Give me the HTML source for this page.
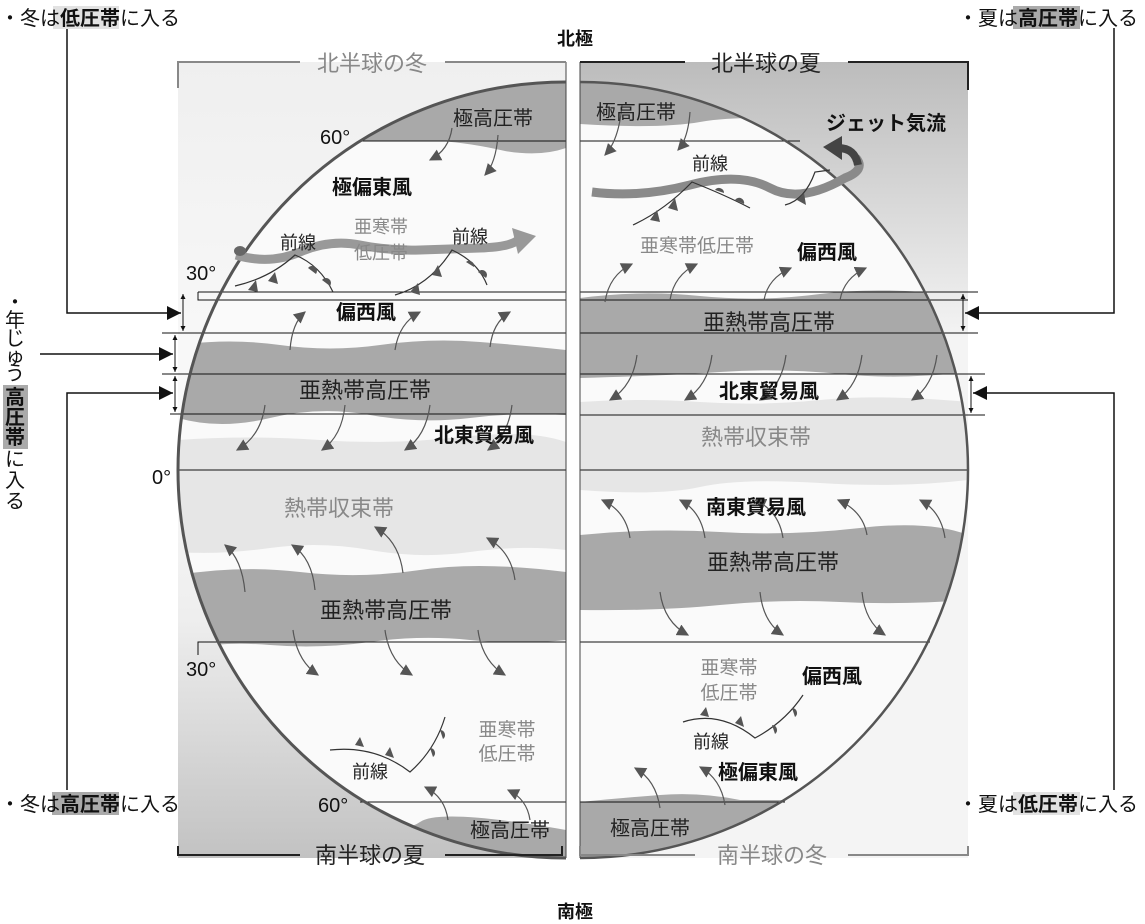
<!DOCTYPE html>
<html><head><meta charset="utf-8"><style>
html,body{margin:0;padding:0;background:#fff;}
svg{display:block;font-family:"Liberation Sans","Noto Sans CJK JP",sans-serif;}
</style></head><body>
<svg width="1145" height="924" viewBox="0 0 1145 924" xmlns="http://www.w3.org/2000/svg">
<defs>
<clipPath id="cL"><path d="M566 82 A388 388 0 0 0 566 858 Z"/></clipPath>
<clipPath id="cR"><path d="M580 82 A388 388 0 0 1 580 858 Z"/></clipPath>
<linearGradient id="gL" x1="0" y1="0" x2="0" y2="1">
<stop offset="0" stop-color="#efefef"/><stop offset="0.45" stop-color="#fafafa"/><stop offset="0.7" stop-color="#eeeeee"/><stop offset="1" stop-color="#c2c2c2"/></linearGradient>
<linearGradient id="gR" x1="0" y1="0" x2="0" y2="1">
<stop offset="0" stop-color="#bcbcbc"/><stop offset="0.35" stop-color="#f4f4f4"/><stop offset="1" stop-color="#f4f4f4"/></linearGradient>
<marker id="ah" viewBox="0 0 10 10" refX="9" refY="5" markerWidth="12" markerHeight="12" markerUnits="userSpaceOnUse" orient="auto"><path d="M0 0L10 5L0 10z" fill="#555"/></marker>
<marker id="bk" viewBox="0 0 10 10" refX="10" refY="5" markerWidth="14" markerHeight="14" markerUnits="userSpaceOnUse" orient="auto"><path d="M0 0L10 5L0 10z" fill="#111"/></marker>
<marker id="sm" viewBox="0 0 10 10" refX="10" refY="5" markerWidth="5" markerHeight="5" markerUnits="userSpaceOnUse" orient="auto-start-reverse"><path d="M0 0L10 5L0 10z" fill="#111"/></marker>
</defs>

<rect x="178" y="62" width="388" height="796" fill="url(#gL)"/>
<rect x="580" y="62" width="388" height="796" fill="url(#gR)"/>

<g clip-path="url(#cL)">
<rect x="170" y="60" width="400" height="800" fill="#fafafa"/>
<path d="M178 60 H566 V148 Q540 157 505 151 Q470 143 440 141 L178 141 Z" fill="#a9a9a9"/>
<path d="M178 345 Q230 338 280 345 T380 345 T480 342 T566 350 V415 Q520 412 470 418 T370 415 T270 418 T178 418 Z" fill="#a9a9a9"/>
<path d="M178 440 Q250 435 320 440 T460 437 T566 442 V550 Q520 545 470 552 T370 550 T270 548 T178 552 Z" fill="#e6e6e6"/>
<path d="M178 575 Q240 565 300 572 T420 570 T566 572 V640 Q520 645 470 640 T370 642 T270 645 T178 650 Z" fill="#a9a9a9"/>
<path d="M178 830 Q260 820 330 828 T420 822 T566 830 V860 H178 Z" fill="#a9a9a9"/>
</g>
<g clip-path="url(#cR)">
<rect x="578" y="60" width="400" height="800" fill="#fafafa"/>
<path d="M580 60 H968 V120 Q900 125 820 120 T700 122 T580 124 Z" fill="#a9a9a9"/>
<path d="M580 298 Q640 290 700 296 T820 294 T968 296 V372 Q900 380 840 374 T720 372 T580 378 Z" fill="#a9a9a9"/>
<path d="M580 402 Q640 398 700 402 T820 400 T968 402 V480 Q900 488 820 483 T700 487 T580 490 Z" fill="#e6e6e6"/>
<path d="M580 535 Q650 528 720 532 T860 528 T968 535 V600 Q900 605 840 602 T720 605 T580 610 Z" fill="#a9a9a9"/>
<path d="M580 802 Q620 798 660 795 T740 800 L968 800 V860 H580 Z" fill="#a9a9a9"/>
</g>

<g stroke="#111" stroke-width="1" fill="none">
<path d="M198 292 H566 M198 292 V300 H566 M162 333 H566 M162 374 H566 M170 414 H566 M178 470 H566"/>
<path d="M198 655 V642 H566 M360 802 H566 M360 141 H566"/>
<path d="M580 141 H800 M580 292 H978 M580 300 H968 M580 333 H978 M580 374 H985 M580 415 H985 M580 470 H968 M580 642 H930 M580 802 H785"/>
<path d="M566 62 V858 M580 62 V858" stroke="#444"/>
</g>

<path d="M566 82 A388 388 0 0 0 566 858" stroke="#555" stroke-width="3" fill="none"/>
<path d="M580 82 A388 388 0 0 1 580 858" stroke="#555" stroke-width="2.5" fill="none"/>

<path d="M236 255 Q270 265 300 252 T360 245 T420 250 T480 248 T518 240" stroke="#999" stroke-width="9" fill="none"/>
<polygon points="512,228 536,236 518,254" fill="#999"/>
<ellipse cx="240" cy="251" rx="6" ry="5" fill="#666"/>
<path d="M592 192 Q640 198 690 185 T770 188 T845 178 Q866 170 856 158" stroke="#8a8a8a" stroke-width="9" fill="none"/>
<path d="M858 165 Q855 148 838 148" stroke="#444" stroke-width="8" fill="none"/>
<polygon points="823,147 842,136 842,160" fill="#444"/>

<g stroke="#333" stroke-width="1.2" fill="none">
<path d="M235 286 Q270 278 295 255 Q320 265 333 292"/>
<path d="M395 295 Q430 285 452 250 Q478 262 487 285"/>
<path d="M633 225 Q665 210 692 182 Q725 195 750 208"/>
<path d="M785 205 Q805 200 815 172 L830 170"/>
<path d="M330 750 Q375 745 410 772 Q435 750 445 717"/>
<path d="M683 722 Q720 710 755 738 Q785 722 803 695"/>
</g>
<g fill="#555">
<polygon points="248,290 256,280 258,292"/><polygon points="268,281 275,272 278,284"/>
<path d="M308 268 a5 5 0 0 1 8 6z"/><path d="M322 280 a5 5 0 0 1 8 6z"/>
<polygon points="410,292 418,283 420,295"/><polygon points="432,275 438,265 442,277"/>
<path d="M466 262 a5 5 0 0 1 8 5z"/><path d="M478 272 a5 5 0 0 1 8 6z"/>
<polygon points="650,220 657,210 660,222"/><polygon points="668,208 675,198 678,211"/>
<path d="M715 190 a5 5 0 0 1 9 3z"/><path d="M735 200 a5 5 0 0 1 9 4z"/>
<polygon points="797,200 804,193 806,205"/>
<polygon points="355,745 360,737 364,747"/><polygon points="385,755 390,747 394,758"/>
<path d="M430 748 a5 5 0 0 1 3 9z"/><path d="M440 730 a5 5 0 0 1 3 9z"/>
<polygon points="700,715 706,707 709,717"/><polygon points="735,723 741,716 744,727"/>
<path d="M772 725 a5 5 0 0 1 3 9z"/><path d="M792 708 a5 5 0 0 1 3 9z"/>
</g>

<g stroke="#555" stroke-width="1.2" fill="none" marker-end="url(#ah)">
<path d="M452 128 Q449 150 430 160"/><path d="M498 135 Q496 163 485 175"/>
<path d="M290 350 Q292 323 305 312"/><path d="M395 350 Q399 323 420 312"/><path d="M490 347 Q493 322 510 312"/>
<path d="M265 405 Q261 436 237 450"/><path d="M345 405 Q342 436 322 450"/><path d="M430 405 Q426 436 405 450"/><path d="M512 405 Q508 436 488 450"/>
<path d="M245 592 Q242 559 225 545"/><path d="M315 590 Q312 558 292 545"/><path d="M403 573 Q399 541 375 527"/><path d="M515 580 Q511 551 487 538"/>
<path d="M293 630 Q297 661 318 675"/><path d="M385 630 Q389 661 412 675"/><path d="M478 630 Q482 661 505 675"/>
<path d="M448 820 Q445 797 425 787"/><path d="M530 820 Q527 799 508 790"/>
<path d="M622 105 Q619 140 605 155"/><path d="M690 112 Q688 139 678 150"/>
<path d="M605 302 Q609 275 632 264"/><path d="M670 300 Q674 275 697 264"/><path d="M764 300 Q768 278 791 268"/><path d="M840 300 Q844 278 866 268"/>
<path d="M637 355 Q633 386 610 400"/><path d="M712 355 Q708 386 685 400"/><path d="M786 355 Q782 386 760 400"/><path d="M862 355 Q858 386 837 400"/><path d="M937 355 Q933 386 912 400"/>
<path d="M630 538 Q626 511 602 500"/><path d="M705 538 Q701 511 680 500"/><path d="M783 538 Q779 511 755 500"/><path d="M867 535 Q863 511 838 500"/><path d="M945 538 Q941 511 920 500"/>
<path d="M660 592 Q664 622 688 635"/><path d="M760 592 Q763 622 783 635"/><path d="M862 592 Q865 622 885 635"/>
<path d="M660 808 Q656 780 635 768"/><path d="M725 805 Q721 779 700 767"/>
</g>

<g fill="none" stroke-width="2">
<path d="M178 88 V62 H300 M445 62 H566" stroke="#888"/>
<path d="M580 62 H685 M848 62 H968 V90" stroke="#222"/>
<path d="M178 846 V855 H300 M445 855 H562 V846" stroke="#222"/>
<path d="M580 846 V855 H695 M848 855 H968 V846" stroke="#888"/>
</g>

<g stroke="#111" stroke-width="1" fill="none">
<path d="M183 294 V331" marker-start="url(#sm)" marker-end="url(#sm)"/>
<path d="M175 335 V372" marker-start="url(#sm)" marker-end="url(#sm)"/>
<path d="M175 376 V412" marker-start="url(#sm)" marker-end="url(#sm)"/>
<path d="M963 294 V331" marker-start="url(#sm)" marker-end="url(#sm)"/>
<path d="M971 376 V413" marker-start="url(#sm)" marker-end="url(#sm)"/>
<path d="M67 28 V313 H181" stroke-width="1.5" marker-end="url(#bk)"/>
<path d="M40 354 H173" stroke-width="1.5" marker-end="url(#bk)"/>
<path d="M67 790 V393 H173" stroke-width="1.5" marker-end="url(#bk)"/>
<path d="M1114 28 V313 H965" stroke-width="1.5" marker-end="url(#bk)"/>
<path d="M1114 790 V393 H973" stroke-width="1.5" marker-end="url(#bk)"/>
</g>

<rect x="53" y="6" width="66" height="23" fill="#e2e2e2"/>
<rect x="1013" y="6" width="67" height="23" fill="#aaaaaa"/>
<rect x="52" y="792" width="67" height="23" fill="#aaaaaa"/>
<rect x="1013" y="792" width="67" height="23" fill="#e2e2e2"/>
<rect x="3" y="385" width="25" height="64" fill="#aaaaaa"/>

<g font-size="20" fill="#111">
<text x="0" y="25">・冬は<tspan font-weight="700">低圧帯</tspan>に入る</text>
<text x="958" y="25">・夏は<tspan font-weight="700">高圧帯</tspan>に入る</text>
<text x="0" y="811">・冬は<tspan font-weight="700">高圧帯</tspan>に入る</text>
<text x="958" y="811">・夏は<tspan font-weight="700">低圧帯</tspan>に入る</text>
</g>
<g font-size="20" fill="#111" text-anchor="middle">
<text x="15" y="309">・</text><text x="15" y="327">年</text><text x="15" y="345">じ</text><text x="15" y="363">ゅ</text><text x="15" y="380">う</text>
<text x="15" y="404" font-weight="700">高</text><text x="15" y="424" font-weight="700">圧</text><text x="15" y="444" font-weight="700">帯</text>
<text x="15" y="466">に</text><text x="15" y="487">入</text><text x="15" y="508">る</text>
</g>

<g text-anchor="middle">
<text x="575" y="45" font-size="18" font-weight="700" fill="#111">北極</text>
<text x="575" y="918" font-size="18" font-weight="700" fill="#111">南極</text>
<text x="372" y="71" font-size="22" fill="#888">北半球の冬</text>
<text x="766" y="71" font-size="22" fill="#222">北半球の夏</text>
<text x="370" y="863" font-size="22" fill="#222">南半球の夏</text>
<text x="772" y="863" font-size="22" fill="#888">南半球の冬</text>
</g>

<g font-size="20" fill="#111">
<text x="320" y="144">60°</text>
<text x="186" y="280">30°</text>
<text x="152" y="484">0°</text>
<text x="186" y="676">30°</text>
<text x="318" y="812">60°</text>
</g>

<g text-anchor="middle" fill="#222">
<text x="493" y="125" font-size="20">極高圧帯</text>
<text x="372" y="194" font-size="20" font-weight="700" fill="#111">極偏東風</text>
<text x="298" y="249" font-size="18">前線</text>
<text x="381" y="233" font-size="18" fill="#888">亜寒帯</text>
<text x="381" y="259" font-size="18" fill="#888">低圧帯</text>
<text x="470" y="243" font-size="18">前線</text>
<text x="366" y="319" font-size="20" font-weight="700" fill="#111">偏西風</text>
<text x="365" y="398" font-size="22">亜熱帯高圧帯</text>
<text x="484" y="442" font-size="20" font-weight="700" fill="#111">北東貿易風</text>
<text x="339" y="516" font-size="22" fill="#888">熱帯収束帯</text>
<text x="386" y="618" font-size="22">亜熱帯高圧帯</text>
<text x="507" y="736" font-size="19" fill="#888">亜寒帯</text>
<text x="507" y="760" font-size="19" fill="#888">低圧帯</text>
<text x="370" y="778" font-size="18">前線</text>
<text x="510" y="837" font-size="20">極高圧帯</text>

<text x="636" y="119" font-size="20">極高圧帯</text>
<text x="886" y="130" font-size="20" font-weight="700" fill="#111">ジェット気流</text>
<text x="710" y="170" font-size="18">前線</text>
<text x="697" y="252" font-size="19" fill="#888">亜寒帯低圧帯</text>
<text x="827" y="259" font-size="20" font-weight="700" fill="#111">偏西風</text>
<text x="769" y="330" font-size="22">亜熱帯高圧帯</text>
<text x="769" y="398" font-size="20" font-weight="700" fill="#111">北東貿易風</text>
<text x="756" y="445" font-size="22" fill="#888">熱帯収束帯</text>
<text x="756" y="514" font-size="20" font-weight="700" fill="#111">南東貿易風</text>
<text x="773" y="570" font-size="22">亜熱帯高圧帯</text>
<text x="729" y="674" font-size="19" fill="#888">亜寒帯</text>
<text x="729" y="699" font-size="19" fill="#888">低圧帯</text>
<text x="832" y="683" font-size="20" font-weight="700" fill="#111">偏西風</text>
<text x="711" y="748" font-size="18">前線</text>
<text x="758" y="779" font-size="20" font-weight="700" fill="#111">極偏東風</text>
<text x="650" y="835" font-size="20">極高圧帯</text>
</g>
</svg>
</body></html>
